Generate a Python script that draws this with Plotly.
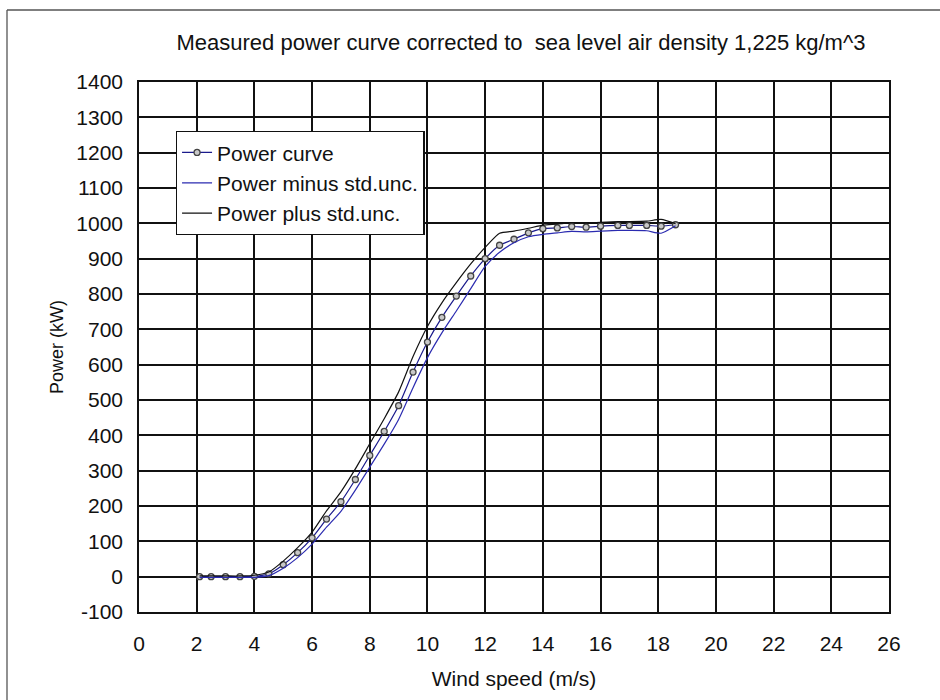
import plotly.graph_objects as go

wind_speed = [2.1, 2.5, 3.0, 3.5, 4.0, 4.5, 5.0, 5.5, 6.0, 6.5, 7.0, 7.5, 8.0, 8.5, 9.0, 9.5,
              10.0, 10.5, 11.0, 11.5, 12.0, 12.5, 13.0, 13.5, 14.0, 14.5, 15.0, 15.5, 16.0,
              16.6, 17.0, 17.6, 18.1, 18.6]
power_curve = [0, 0, 0, 0, 1, 8, 34, 68, 110, 163, 212, 275, 343, 411, 484, 579,
               664, 734, 794, 851, 900, 938, 955, 973, 985, 987, 991, 989, 992,
               994, 994, 994, 992, 996]
power_minus = [-2, -2, -2, -2, -2, 3, 24, 54, 92, 140, 185, 245, 310, 375, 445, 535,
               620, 690, 752, 815, 878, 918, 945, 962, 969, 973, 977, 976, 978,
               980, 980, 979, 972, 993]
power_plus = [2, 2, 2, 2, 4, 13, 44, 82, 126, 186, 240, 305, 376, 447, 523, 623,
              708, 775, 832, 885, 932, 972, 978, 986, 995, 998, 1002, 1001, 1003,
              1005, 1005, 1006, 1011, 999]

x_ticks = list(range(0, 27, 2))
y_ticks = list(range(-100, 1401, 100))

FONT = "Liberation Sans, Arial, sans-serif"

fig = go.Figure()
fig.add_trace(go.Scatter(
    x=wind_speed, y=power_curve, name="Power curve", mode="lines+markers",
    line=dict(color="#1a1a8c", width=1.2, shape="spline", smoothing=0.6),
    marker=dict(symbol="circle", size=6, color="#c8c8c8", line=dict(color="#444444", width=1.3)),
))
fig.add_trace(go.Scatter(
    x=wind_speed, y=power_minus, name="Power minus std.unc.", mode="lines",
    line=dict(color="#2b2bb0", width=1.2, shape="spline", smoothing=0.6),
))
fig.add_trace(go.Scatter(
    x=wind_speed, y=power_plus, name="Power plus std.unc.", mode="lines",
    line=dict(color="#111111", width=1.2, shape="spline", smoothing=0.6),
))

fig.update_layout(
    width=940, height=700,
    margin=dict(l=139, r=51, t=82, b=88),
    paper_bgcolor="white", plot_bgcolor="white",
    font=dict(family=FONT, size=20, color="#111111"),
    title=dict(text="Measured power curve corrected to  sea level air density 1,225 kg/m^3",
               x=521 / 940, xanchor="center", y=1 - 42 / 700, yanchor="middle",
               font=dict(family=FONT, size=22, color="#111111")),
    showlegend=True,
    legend=dict(x=0.049, y=0.9075, xanchor="left", yanchor="top",
                bgcolor="white", bordercolor="#111111", borderwidth=1.3,
                font=dict(family=FONT, size=21, color="#111111"),
                tracegroupgap=0, itemwidth=30),
    xaxis=dict(range=[0, 26], tickvals=x_ticks, ticktext=[str(v) for v in x_ticks],
               showgrid=True, gridcolor="#111111", gridwidth=1.5,
               showline=True, linecolor="#111111", linewidth=1.5, mirror=True,
               zeroline=False, ticks="", ticklen=0, ticklabelstandoff=12,
               title=dict(text="Wind speed (m/s)", standoff=17,
                          font=dict(family=FONT, size=21)),
               tickfont=dict(family=FONT, size=21)),
    yaxis=dict(range=[-100, 1400], tickvals=y_ticks, ticktext=[str(v) for v in y_ticks],
               showgrid=True, gridcolor="#111111", gridwidth=1.5,
               showline=True, linecolor="#111111", linewidth=1.5, mirror=True,
               zeroline=False, ticks="", ticklen=0, ticklabelstandoff=10,
               title=dict(text="Power (kW)", standoff=8,
                          font=dict(family=FONT, size=18)),
               tickfont=dict(family=FONT, size=21)),
    shapes=[
        dict(type="line", xref="paper", yref="paper",
             x0=(7 - 139) / 750, x1=(940 - 139) / 750,
             y0=(612 - 10) / 530, y1=(612 - 10) / 530,
             line=dict(color="#555555", width=1.3)),
        dict(type="line", xref="paper", yref="paper",
             x0=(7 - 139) / 750, x1=(7 - 139) / 750,
             y0=(612 - 10) / 530, y1=(612 - 700) / 530,
             line=dict(color="#555555", width=1.3)),
    ],
)

fig.write_html("out.html")
